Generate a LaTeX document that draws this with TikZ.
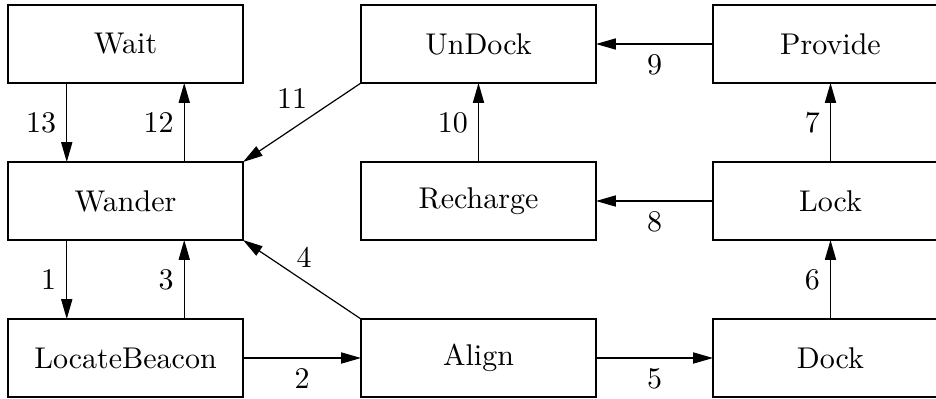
\documentclass[tikz,border=0pt]{standalone}
\usetikzlibrary{arrows.meta}
\tikzset{
  state/.style={draw, line width=0.4pt, minimum width=78.33pt, minimum height=26pt, inner sep=0pt, outer sep=0pt},
  trans/.style={line width=0.4pt, -{Triangle[length=6.6pt,width=3.7pt]}},
  lbl/.style={inner sep=3.33pt}
}
\begin{document}
\begin{tikzpicture}[x=0.33333pt, y=-0.33333pt]
  \useasboundingbox (0,0) rectangle (936,398);

  % states, three columns by three rows
  \node[state] (wait)    at (125.5,44)  {Wait};
  \node[state] (undock)  at (478.5,44)  {UnDock};
  \node[state] (provide) at (830.5,44)  {Provide};
  \node[state] (wander)  at (125.5,201) {Wander};
  \node[state] (recharge) at (478.5,201) {Recharge};
  \node[state] (lock)    at (830.5,201) {Lock};
  \node[state] (locate)  at (125.5,358) {LocateBeacon};
  \node[state] (align)   at (478.5,358) {Align};
  \node[state] (dock)    at (830.5,358) {Dock};

  % left column: paired vertical transitions
  \draw[trans] ([xshift=-19.58pt]wander.south) -- node[lbl,left] {1} ([xshift=-19.58pt]locate.north);
  \draw[trans] ([xshift=19.58pt]locate.north) -- node[lbl,left] {3} ([xshift=19.58pt]wander.south);
  \draw[trans] ([xshift=-19.58pt]wait.south) -- node[lbl,left] {13} ([xshift=-19.58pt]wander.north);
  \draw[trans] ([xshift=19.58pt]wander.north) -- node[lbl,left] {12} ([xshift=19.58pt]wait.south);

  % horizontal transitions
  \draw[trans] (locate.east) -- node[lbl,below] {2} (align.west);
  \draw[trans] (align.east) -- node[lbl,below] {5} (dock.west);
  \draw[trans] (lock.west) -- node[lbl,below] {8} (recharge.east);
  \draw[trans] (provide.west) -- node[lbl,below] {9} (undock.east);

  % vertical transitions on the right
  \draw[trans] (dock.north) -- node[lbl,left] {6} (lock.south);
  \draw[trans] (lock.north) -- node[lbl,left] {7} (provide.south);
  \draw[trans] (recharge.north) -- node[lbl,left] {10} (undock.south);

  % diagonal transitions back to Wander
  \draw[trans] (align.north west) -- node[pos=0.5, xshift=0.7pt, yshift=7.5pt] {4} (wander.south east);
  \draw[trans] (undock.south west) -- node[pos=0.5, xshift=-3.3pt, yshift=8pt] {11} (wander.north east);
\end{tikzpicture}
\end{document}
